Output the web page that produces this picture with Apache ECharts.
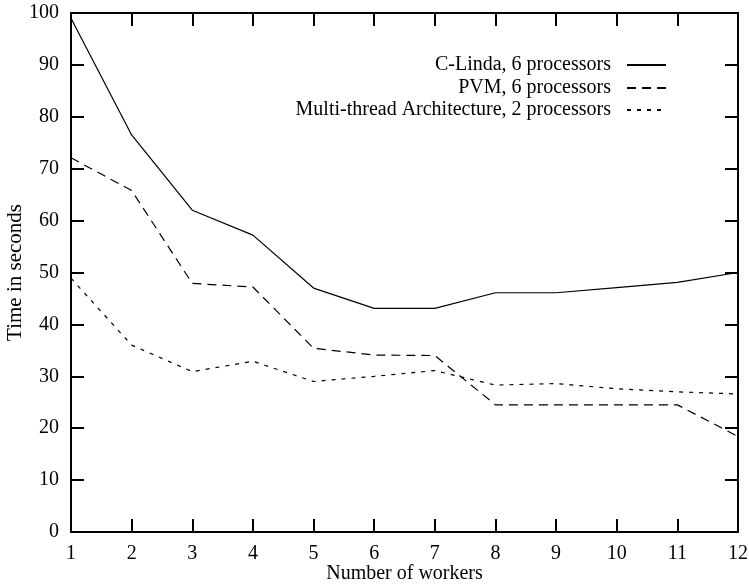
<!DOCTYPE html>
<html>
<head>
<meta charset="utf-8">
<script src="https://cdn.jsdelivr.net/npm/echarts@6/dist/echarts.min.js"></script>
<style>html,body{margin:0;padding:0;background:#fff;}#c{width:749px;height:586px;}</style>
</head>
<body>
<div id="c"></div>
<script>
const workers = [1,2,3,4,5,6,7,8,9,10,11,12];
const cLinda = [99.0, 76.5, 62.0, 57.2, 47.0, 43.1, 43.1, 46.1, 46.1, 47.1, 48.1, 50.0];
const pvm = [72.1, 65.8, 47.9, 47.2, 35.4, 34.1, 34.0, 24.5, 24.5, 24.5, 24.5, 18.4];
const multiThread = [48.9, 36.0, 30.9, 32.9, 29.0, 30.0, 31.1, 28.3, 28.6, 27.6, 27.0, 26.6];
const seriesNames = ['C-Linda, 6 processors', 'PVM, 6 processors', 'Multi-thread Architecture, 2 processors'];

const font = 'Liberation Serif, Times New Roman, serif';
const chart = echarts.init(document.getElementById('c'));
const pairs = arr => workers.map((w, i) => [w, arr[i]]);
const axisCommon = {
  axisLine: {show: true, onZero: false, lineStyle: {color: '#000', width: 2}},
  axisTick: {show: true, inside: true, length: 13, lineStyle: {color: '#000', width: 2}},
  splitLine: {show: false}
};
const legendCommon = {
  right: 82, orient: 'vertical', align: 'right', itemWidth: 39, itemHeight: 12, itemGap: 0, padding: 0,
  itemStyle: {opacity: 0},
  textStyle: {fontFamily: font, fontSize: 20, color: '#000', padding: [0, 11, 0, 0]}
};
chart.setOption({
  animation: false,
  backgroundColor: '#fff',
  grid: {left: 71, right: 11, top: 13, bottom: 54, containLabel: false, outerBoundsMode: 'none'},
  legend: [
    Object.assign({}, legendCommon, {data: [seriesNames[0]], top: 55}),
    Object.assign({}, legendCommon, {data: [seriesNames[1]], top: 78}),
    Object.assign({}, legendCommon, {data: [seriesNames[2]], top: 100})
  ],
  xAxis: [
    Object.assign({}, axisCommon, {
      type: 'value', min: 1, max: 12, interval: 1, position: 'bottom',
      name: 'Number of workers', nameLocation: 'middle', nameGap: 32, nameMoveOverlap: false,
      nameTextStyle: {fontFamily: font, fontSize: 20, color: '#000'},
      axisLabel: {fontFamily: font, fontSize: 20, color: '#000', margin: 12}
    }),
    Object.assign({}, axisCommon, {
      type: 'value', min: 1, max: 12, interval: 1, position: 'top',
      axisLabel: {show: false}
    })
  ],
  yAxis: [
    Object.assign({}, axisCommon, {
      type: 'value', min: 0, max: 100, interval: 10, position: 'left',
      name: 'Time in seconds', nameLocation: 'middle', nameGap: 45, nameRotate: 90, nameMoveOverlap: false,
      nameTextStyle: {fontFamily: font, fontSize: 21, color: '#000'},
      axisLabel: {fontFamily: font, fontSize: 20, color: '#000', margin: 12}
    }),
    Object.assign({}, axisCommon, {
      type: 'value', min: 0, max: 100, interval: 10, position: 'right',
      axisLabel: {show: false}
    })
  ],
  series: [
    {name: seriesNames[0], type: 'line', data: pairs(cLinda), symbol: 'none',
     lineStyle: {color: '#000', width: 1.2, type: 'solid'}, itemStyle: {color: '#000'}},
    {name: seriesNames[1], type: 'line', data: pairs(pvm), symbol: 'none',
     lineStyle: {color: '#000', width: 1.2, type: [9, 6]}, itemStyle: {color: '#000'}},
    {name: seriesNames[2], type: 'line', data: pairs(multiThread), symbol: 'none',
     lineStyle: {color: '#000', width: 1.2, type: [4, 6]}, itemStyle: {color: '#000'}}
  ]
});
</script>
</body>
</html>
